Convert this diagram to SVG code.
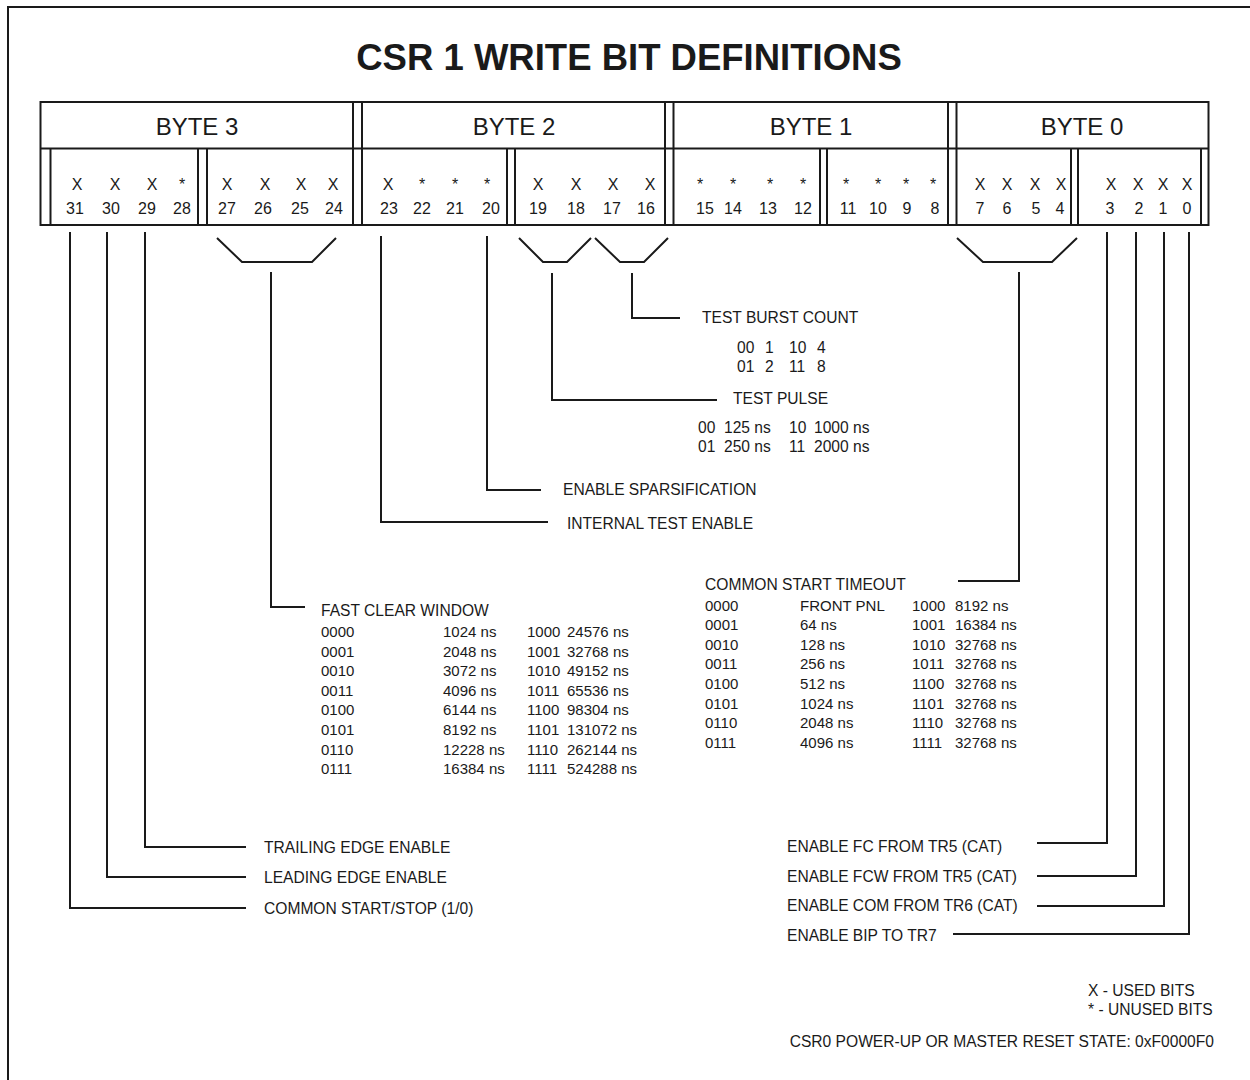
<svg xmlns="http://www.w3.org/2000/svg" width="1250" height="1080" viewBox="0 0 1250 1080">
<style>
.ln{stroke:#1a1a1a;stroke-width:2;fill:none}
.t{font-family:"Liberation Sans",Arial,sans-serif;fill:#1a1a1a;font-size:15.6px}
.bit{font-size:16px;text-anchor:middle}
.hdr{font-size:24px;text-anchor:middle}
.ttl{font-size:36.5px;font-weight:bold;text-anchor:middle}
.tb{font-size:15px}
</style>
<rect width="1250" height="1080" fill="#fff"/>
<path class="ln" d="M8,1080 V7 H1250"/>
<g id="title"><text class="t ttl" x="629" y="70">CSR 1 WRITE BIT DEFINITIONS</text></g>
<g id="register">
<rect class="ln" x="40.5" y="102" width="1168" height="123"/>
<line class="ln" x1="40.5" y1="148.5" x2="1208.5" y2="148.5"/>
<path class="ln" d="M50.5,148.5V225 M198,148.5V225 M207,148.5V225 M507,148.5V225 M515,148.5V225 M820,148.5V225 M827,148.5V225 M1071,148.5V225 M1078,148.5V225 M1201,148.5V225 M353,102V225 M362,102V225 M665,102V225 M673.5,102V225 M948,102V225 M956.5,102V225"/>
<text class="t hdr" x="197" y="135">BYTE 3</text>
<text class="t hdr" x="514" y="135">BYTE 2</text>
<text class="t hdr" x="811" y="135">BYTE 1</text>
<text class="t hdr" x="1082" y="135">BYTE 0</text>
<g class="t bit">
<text x="77" y="190">X</text><text x="115" y="190">X</text><text x="152" y="190">X</text><text x="182" y="190">*</text>
<text x="227" y="190">X</text><text x="265" y="190">X</text><text x="301" y="190">X</text><text x="333" y="190">X</text>
<text x="388" y="190">X</text><text x="422" y="190">*</text><text x="455" y="190">*</text><text x="487" y="190">*</text>
<text x="538" y="190">X</text><text x="576" y="190">X</text><text x="613" y="190">X</text><text x="650" y="190">X</text>
<text x="700" y="190">*</text><text x="733" y="190">*</text><text x="770" y="190">*</text><text x="803" y="190">*</text>
<text x="846" y="190">*</text><text x="878" y="190">*</text><text x="906" y="190">*</text><text x="933" y="190">*</text>
<text x="980" y="190">X</text><text x="1007" y="190">X</text><text x="1035" y="190">X</text><text x="1061" y="190">X</text>
<text x="1111" y="190">X</text><text x="1138" y="190">X</text><text x="1163" y="190">X</text><text x="1187" y="190">X</text>
<text x="75" y="214">31</text><text x="111" y="214">30</text><text x="147" y="214">29</text><text x="182" y="214">28</text>
<text x="227" y="214">27</text><text x="263" y="214">26</text><text x="300" y="214">25</text><text x="334" y="214">24</text>
<text x="389" y="214">23</text><text x="422" y="214">22</text><text x="455" y="214">21</text><text x="491" y="214">20</text>
<text x="538" y="214">19</text><text x="576" y="214">18</text><text x="612" y="214">17</text><text x="646" y="214">16</text>
<text x="705" y="214">15</text><text x="733" y="214">14</text><text x="768" y="214">13</text><text x="803" y="214">12</text>
<text x="848" y="214">11</text><text x="878" y="214">10</text><text x="907" y="214">9</text><text x="935" y="214">8</text>
<text x="980" y="214">7</text><text x="1007" y="214">6</text><text x="1036" y="214">5</text><text x="1060" y="214">4</text>
<text x="1110" y="214">3</text><text x="1139" y="214">2</text><text x="1163" y="214">1</text><text x="1187" y="214">0</text>
</g>
</g>
<g id="connectors" class="ln">
<path d="M217,238 L242,262 H312 L336,238"/>
<path d="M271,272 V607 H305"/>
<path d="M381,236 V522 H548"/>
<path d="M487,236 V490 H541"/>
<path d="M519,238 L543,262 H567 L591,238"/>
<path d="M552,273 V400 H717"/>
<path d="M595,238 L620,262 H644 L668,238"/>
<path d="M632,273 V318 H680"/>
<path d="M957,238 L983,262 H1052 L1077,238"/>
<path d="M1019,272 V581 H958"/>
<path d="M70,232 V908 H246"/>
<path d="M107,232 V877 H246"/>
<path d="M145,232 V847 H246"/>
<path d="M1107,232 V843 H1037"/>
<path d="M1136,232 V876 H1037"/>
<path d="M1164,232 V906 H1037"/>
<path d="M1189,232 V934 H953"/>
</g>
<g id="test-burst-count" class="t">
<text x="702" y="323">TEST BURST COUNT</text>
<text y="353"><tspan x="737">00</tspan><tspan x="765">1</tspan><tspan x="789">10</tspan><tspan x="817">4</tspan></text>
<text y="372"><tspan x="737">01</tspan><tspan x="765">2</tspan><tspan x="789">11</tspan><tspan x="817">8</tspan></text>
</g>
<g id="test-pulse" class="t">
<text x="733" y="404">TEST PULSE</text>
<text y="433"><tspan x="698">00</tspan><tspan x="724">125 ns</tspan><tspan x="789">10</tspan><tspan x="814">1000 ns</tspan></text>
<text y="452"><tspan x="698">01</tspan><tspan x="724">250 ns</tspan><tspan x="789">11</tspan><tspan x="814">2000 ns</tspan></text>
</g>
<g id="enable-sparsification" class="t"><text x="563" y="495">ENABLE SPARSIFICATION</text></g>
<g id="internal-test-enable" class="t"><text x="567" y="529">INTERNAL TEST ENABLE</text></g>
<g id="fast-clear-window" class="t">
<text x="321" y="616">FAST CLEAR WINDOW</text>
<g class="tb">
<text y="637"><tspan x="321">0000</tspan><tspan x="443">1024 ns</tspan><tspan x="527">1000</tspan><tspan x="567">24576 ns</tspan></text>
<text y="656.6"><tspan x="321">0001</tspan><tspan x="443">2048 ns</tspan><tspan x="527">1001</tspan><tspan x="567">32768 ns</tspan></text>
<text y="676.2"><tspan x="321">0010</tspan><tspan x="443">3072 ns</tspan><tspan x="527">1010</tspan><tspan x="567">49152 ns</tspan></text>
<text y="695.8"><tspan x="321">0011</tspan><tspan x="443">4096 ns</tspan><tspan x="527">1011</tspan><tspan x="567">65536 ns</tspan></text>
<text y="715.4"><tspan x="321">0100</tspan><tspan x="443">6144 ns</tspan><tspan x="527">1100</tspan><tspan x="567">98304 ns</tspan></text>
<text y="735"><tspan x="321">0101</tspan><tspan x="443">8192 ns</tspan><tspan x="527">1101</tspan><tspan x="567">131072 ns</tspan></text>
<text y="754.6"><tspan x="321">0110</tspan><tspan x="443">12228 ns</tspan><tspan x="527">1110</tspan><tspan x="567">262144 ns</tspan></text>
<text y="774.2"><tspan x="321">0111</tspan><tspan x="443">16384 ns</tspan><tspan x="527">1111</tspan><tspan x="567">524288 ns</tspan></text>
</g>
</g>
<g id="common-start-timeout" class="t">
<text x="705" y="590">COMMON START TIMEOUT</text>
<g class="tb">
<text y="610.5"><tspan x="705">0000</tspan><tspan x="800">FRONT PNL</tspan><tspan x="912">1000</tspan><tspan x="955">8192 ns</tspan></text>
<text y="630.1"><tspan x="705">0001</tspan><tspan x="800">64 ns</tspan><tspan x="912">1001</tspan><tspan x="955">16384 ns</tspan></text>
<text y="649.7"><tspan x="705">0010</tspan><tspan x="800">128 ns</tspan><tspan x="912">1010</tspan><tspan x="955">32768 ns</tspan></text>
<text y="669.3"><tspan x="705">0011</tspan><tspan x="800">256 ns</tspan><tspan x="912">1011</tspan><tspan x="955">32768 ns</tspan></text>
<text y="688.9"><tspan x="705">0100</tspan><tspan x="800">512 ns</tspan><tspan x="912">1100</tspan><tspan x="955">32768 ns</tspan></text>
<text y="708.5"><tspan x="705">0101</tspan><tspan x="800">1024 ns</tspan><tspan x="912">1101</tspan><tspan x="955">32768 ns</tspan></text>
<text y="728.1"><tspan x="705">0110</tspan><tspan x="800">2048 ns</tspan><tspan x="912">1110</tspan><tspan x="955">32768 ns</tspan></text>
<text y="747.7"><tspan x="705">0111</tspan><tspan x="800">4096 ns</tspan><tspan x="912">1111</tspan><tspan x="955">32768 ns</tspan></text>
</g>
</g>
<g id="trailing-edge-enable" class="t"><text x="264" y="853">TRAILING EDGE ENABLE</text></g>
<g id="leading-edge-enable" class="t"><text x="264" y="883">LEADING EDGE ENABLE</text></g>
<g id="common-start-stop" class="t"><text x="264" y="914">COMMON START/STOP (1/0)</text></g>
<g id="enable-fc" class="t"><text x="787" y="852">ENABLE FC FROM TR5 (CAT)</text></g>
<g id="enable-fcw" class="t"><text x="787" y="882">ENABLE FCW FROM TR5 (CAT)</text></g>
<g id="enable-com" class="t"><text x="787" y="911">ENABLE COM FROM TR6 (CAT)</text></g>
<g id="enable-bip" class="t"><text x="787" y="941">ENABLE BIP TO TR7</text></g>
<g id="legend" class="t">
<text x="1088" y="996">X - USED BITS</text>
<text x="1088" y="1015">* - UNUSED BITS</text>
<text x="1214" y="1047" text-anchor="end">CSR0 POWER-UP OR MASTER RESET STATE: 0xF0000F0</text>
</g>
</svg>
